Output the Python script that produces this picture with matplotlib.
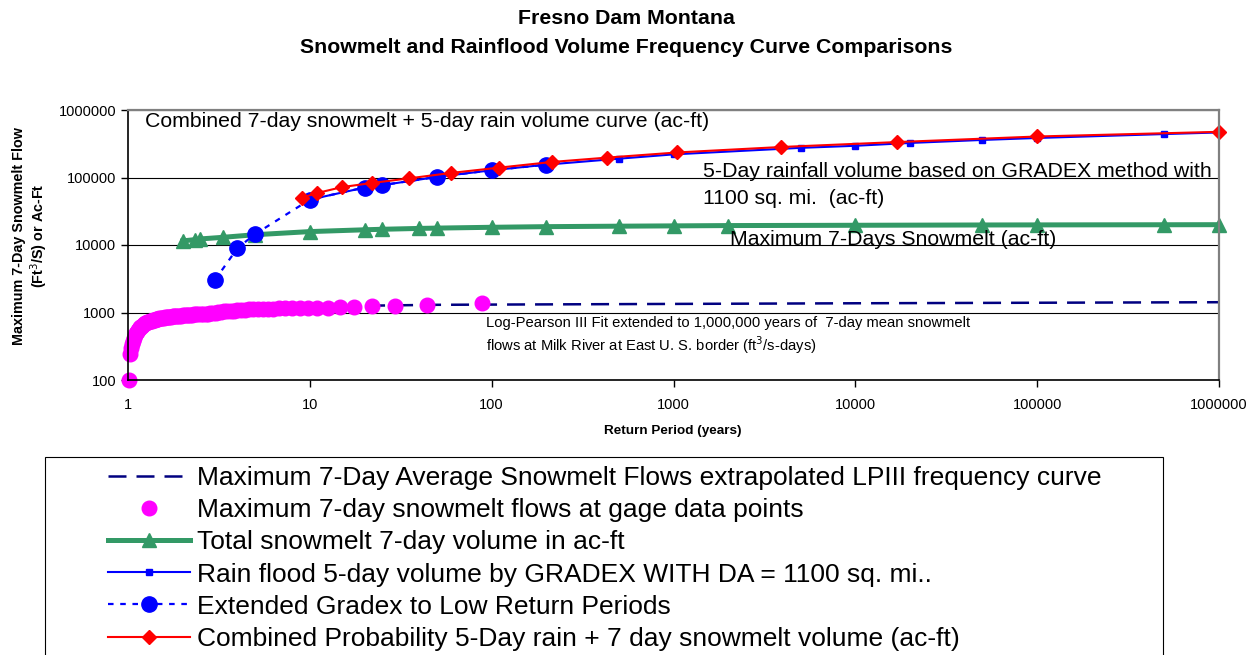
import matplotlib
matplotlib.use("Agg")
import matplotlib.pyplot as plt
from matplotlib.patches import Rectangle
from matplotlib.ticker import FixedLocator, FixedFormatter, NullLocator

plt.rcParams['font.family'] = ['Liberation Sans', 'DejaVu Sans']

# LPIII fit of 7-day mean snowmelt flows (ft3/s), extended to 1,000,000 years
lp3_T = [5, 10, 20, 50, 100, 1000, 10000, 100000, 1000000]
lp3_Q = [1140, 1200, 1260, 1300, 1310, 1340, 1370, 1395, 1420]

# gage data points, Weibull return periods (years) and flows (ft3/s)
gage_T = [88, 44, 29.33, 22, 17.6, 14.67, 12.57, 11, 9.78, 8.8,
          8, 7.33, 6.77, 6.29, 5.87, 5.5, 5.18, 4.89, 4.63, 4.4,
          4.19, 4, 3.83, 3.67, 3.52, 3.38, 3.26, 3.14, 3.03, 2.93,
          2.84, 2.75, 2.67, 2.59, 2.51, 2.44, 2.38, 2.32, 2.26, 2.2,
          2.15, 2.1, 2.05, 2, 1.96, 1.91, 1.87, 1.83, 1.8, 1.76,
          1.73, 1.69, 1.66, 1.63, 1.6, 1.57, 1.54, 1.52, 1.49, 1.47,
          1.44, 1.42, 1.4, 1.375, 1.354, 1.333, 1.313, 1.294, 1.275, 1.257,
          1.239, 1.222, 1.205, 1.189, 1.173, 1.158, 1.143, 1.128, 1.114, 1.1,
          1.086, 1.073, 1.06, 1.048, 1.035, 1.023, 1.011]
gage_Q = [1390, 1270, 1265, 1240, 1205, 1190, 1185, 1180, 1175, 1170,
          1165, 1160, 1152, 1146, 1140, 1136, 1130, 1120, 1110, 1100,
          1090, 1080, 1070, 1060, 1050, 1040, 1030, 1010, 990, 975,
          970, 965, 960, 955, 950, 945, 940, 935, 930, 925,
          920, 915, 910, 905, 900, 895, 890, 885, 880, 875,
          870, 860, 855, 850, 845, 840, 830, 825, 815, 810,
          800, 790, 780, 770, 760, 750, 740, 730, 720, 705,
          690, 675, 660, 640, 620, 600, 575, 550, 520, 490,
          460, 420, 380, 340, 300, 240, 100]

# total snowmelt 7-day volume (ac-ft)
snow_T = [2, 2.33, 2.5, 3.33, 5, 10, 20, 25, 40, 50,
          100, 200, 500, 1000, 2000, 10000, 50000, 100000, 500000, 1000000]
snow_V = [11500, 12000, 12300, 13000, 14200, 15800, 16800, 17100, 17600, 17800,
          18300, 18700, 19000, 19200, 19400, 19600, 19800, 19850, 19950, 20000]

# rain flood 5-day volume by GRADEX (ac-ft)
rain_T = [10, 20, 25, 50, 100, 200, 500, 1000, 5000, 10000,
          20000, 50000, 100000, 500000, 1000000]
rain_V = [47000, 71000, 77000, 102000, 128000, 155000, 190000, 220000, 275000, 295000,
          325000, 360000, 385000, 440000, 465000]

# GRADEX extended to low return periods
ext_T = [3, 4, 5, 10, 20, 25, 50, 100, 200]
ext_V = [3000, 9000, 14500, 47000, 71000, 77000, 102000, 128000, 155000]

# combined probability 5-day rain + 7-day snowmelt (ac-ft)
comb_T = [9, 11, 15, 22, 35, 60, 110, 215, 430, 1050, 3900, 17000, 100000, 1000000]
comb_V = [50000, 59000, 72000, 83000, 97000, 117000, 140000, 170000, 197000,
          235000, 283000, 335000, 405000, 475000]

x_ticks = [1, 10, 100, 1000, 10000, 100000, 1000000]
y_ticks = [100, 1000, 10000, 100000, 1000000]

W, H = 1252, 655
fig = plt.figure(figsize=(W / 100, H / 100), dpi=100)
ax = fig.add_axes([128 / W, 1 - 380 / H, 1091 / W, 270 / H])
ax.set_xscale('log')
ax.set_yscale('log')

ax.plot(lp3_T, lp3_Q, color='#000080', lw=1.8, dashes=(7.2, 4.0),
        label='Maximum 7-Day Average Snowmelt Flows extrapolated LPIII frequency curve')
ax.plot(gage_T, gage_Q, ls='none', marker='o', ms=10.5, color='#FF00FF', clip_on=False,
        label='Maximum 7-day snowmelt flows at gage data points')
ax.plot(snow_T, snow_V, color='#339966', lw=3.6, marker='^', ms=10, clip_on=False,
        label='Total snowmelt 7-day volume in ac-ft')
ax.plot(rain_T, rain_V, color='#0000FF', lw=1.5, marker='s', ms=5, clip_on=False,
        label='Rain flood 5-day volume by GRADEX WITH DA = 1100 sq. mi..')
ax.plot(ext_T, ext_V, color='#0000FF', lw=1.6, dashes=(2.5, 3), marker='o', ms=11,
        label='Extended Gradex to Low Return Periods')
ax.plot(comb_T, comb_V, color='#FF0000', lw=1.5, marker='D', ms=7, clip_on=False,
        label='Combined Probability 5-Day rain + 7 day snowmelt volume (ac-ft)')

ax.set_xlim(1, 1000000)
ax.set_ylim(100, 1000000)
ax.xaxis.set_major_locator(FixedLocator(x_ticks))
ax.xaxis.set_major_formatter(FixedFormatter([str(v) for v in x_ticks]))
ax.yaxis.set_major_locator(FixedLocator(y_ticks))
ax.yaxis.set_major_formatter(FixedFormatter([str(v) for v in y_ticks]))
ax.xaxis.set_minor_locator(NullLocator())
ax.yaxis.set_minor_locator(NullLocator())
ax.tick_params(axis='both', labelsize=10.5, length=5, width=1, direction='out')
ax.tick_params(axis='x', pad=8)
ax.grid(axis='y', color='black', lw=0.8)
ax.set_axisbelow(True)
for side in ['top', 'right']:
    ax.spines[side].set_color('#808080')
    ax.spines[side].set_linewidth(1.6)
for side in ['left', 'bottom']:
    ax.spines[side].set_linewidth(1.2)

ax.text(0.0156, 0.959, 'Combined 7-day snowmelt + 5-day rain volume curve (ac-ft)',
        transform=ax.transAxes, fontsize=15.3, va='center', ha='left')
ax.text(0.527, 0.722, '5-Day rainfall volume based on GRADEX method with\n1100 sq. mi.  (ac-ft)',
        transform=ax.transAxes, fontsize=15.3, va='center', ha='left', linespacing=1.57)
ax.text(0.552, 0.522, 'Maximum 7-Days Snowmelt (ac-ft)',
        transform=ax.transAxes, fontsize=15.3, va='center', ha='left')
ax.text(0.328, 0.162,
        'Log-Pearson III Fit extended to 1,000,000 years of  7-day mean snowmelt\n'
        'flows at Milk River at East U. S. border (ft$^3$/s-days)',
        transform=ax.transAxes, fontsize=10.6, va='center', ha='left', linespacing=1.25)

fig.text(0.5, 1 - 33 / H, 'Fresno Dam Montana\nSnowmelt and Rainflood Volume Frequency Curve Comparisons',
         ha='center', va='center', fontsize=15.3, fontweight='bold', linespacing=1.65)
fig.text(31 / W, 1 - 236 / H, 'Maximum 7-Day Snowmelt Flow\n(Ft$^3$/S) or Ac-Ft',
         rotation=90, ha='center', va='center', fontsize=10.4, fontweight='bold', linespacing=1.2)
fig.text(673 / W, 1 - 431 / H, 'Return Period (years)',
         ha='center', va='center', fontsize=9.7, fontweight='bold')

# legend box runs past the bottom edge of the figure
fig.add_artist(Rectangle((45 / W, -0.1), (1163 - 45) / W, 1 - 457 / H + 0.1,
                         transform=fig.transFigure, fill=False, edgecolor='black', lw=0.8))
fig.legend(loc='upper left', bbox_to_anchor=(108 / W, 1 - 466 / H),
           fontsize=19, handlelength=3.1, handletextpad=0.27, labelspacing=0.31,
           borderpad=0, borderaxespad=0, frameon=False)

fig.savefig('out.png', dpi=100)
